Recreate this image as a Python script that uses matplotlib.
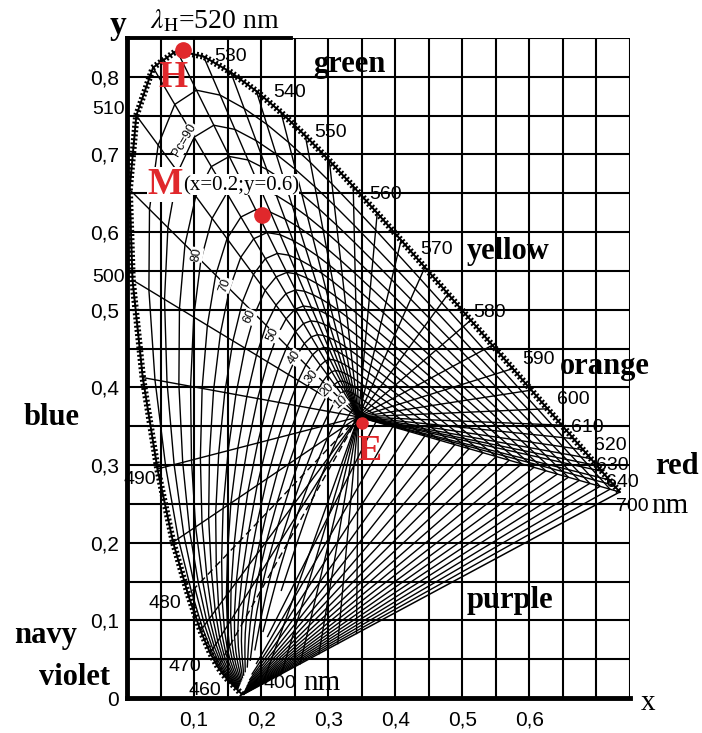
import numpy as np
import matplotlib
import matplotlib.pyplot as plt
import matplotlib.patheffects as pe

matplotlib.use('Agg')

# spectral locus CIE 1931: wavelength, x, y
wl = [380, 385, 390, 395, 400, 405, 410, 415, 420, 425, 430, 435, 440, 445, 450,
      455, 460, 465, 470, 475, 480, 485, 490, 495, 500, 505, 510, 515, 520, 525,
      530, 535, 540, 545, 550, 555, 560, 565, 570, 575, 580, 585, 590, 595, 600,
      605, 610, 615, 620, 625, 630, 635, 640, 645, 650, 660, 680, 700]
cie_x = [0.1741, 0.1740, 0.1738, 0.1736, 0.1733, 0.1730, 0.1726, 0.1721, 0.1714, 0.1703,
         0.1689, 0.1669, 0.1644, 0.1611, 0.1566, 0.1510, 0.1440, 0.1355, 0.1241, 0.1096,
         0.0913, 0.0687, 0.0454, 0.0235, 0.0082, 0.0039, 0.0139, 0.0389, 0.0743, 0.1142,
         0.1547, 0.1929, 0.2296, 0.2658, 0.3016, 0.3373, 0.3731, 0.4087, 0.4441, 0.4788,
         0.5125, 0.5448, 0.5752, 0.6029, 0.6270, 0.6482, 0.6658, 0.6801, 0.6915, 0.7006,
         0.7079, 0.7140, 0.7190, 0.7230, 0.7260, 0.7300, 0.7334, 0.7347]
cie_y = [0.0050, 0.0050, 0.0049, 0.0049, 0.0048, 0.0048, 0.0048, 0.0048, 0.0051, 0.0058,
         0.0069, 0.0086, 0.0109, 0.0138, 0.0177, 0.0227, 0.0297, 0.0399, 0.0578, 0.0868,
         0.1327, 0.2007, 0.2950, 0.4127, 0.5384, 0.6548, 0.7502, 0.8120, 0.8338, 0.8262,
         0.8059, 0.7816, 0.7543, 0.7243, 0.6923, 0.6589, 0.6245, 0.5896, 0.5547, 0.5202,
         0.4866, 0.4544, 0.4242, 0.3965, 0.3725, 0.3514, 0.3340, 0.3197, 0.3083, 0.2993,
         0.2920, 0.2859, 0.2809, 0.2770, 0.2740, 0.2700, 0.2666, 0.2653]

# точка схождения линий и отмеченные точки
center = (0.345, 0.362)
point_E = (0.350, 0.354)
point_H = (0.0835, 0.835)
point_M = (0.201, 0.622)

# линии доминирующей длины волны
line_wl = [470, 475, 485, 490, 495, 500, 505, 510, 515, 520, 525, 530, 535, 540, 545,
           550, 555, 560, 565, 570, 575, 580, 585, 590, 595, 600, 605, 610, 615, 620,
           625, 630, 640, 650, 700]
dashed_wl = [465, 480]
# положение на линии пурпурных цветов (0 - 380 нм, 1 - 700 нм)
purple_t = [0.05, 0.1, 0.15, 0.2, 0.25, 0.3]
purple_grid = [1.0, 0.9, 0.8, 0.7, 0.6, 0.5, 0.4, 0.3, 0.2, 0.1, 0.05, 0.0]
# колориметрическая чистота, %
purity_levels = [5, 10, 15, 20, 25, 30, 35, 40, 45, 50, 55, 60, 65, 70, 75, 80, 85, 90, 95]

wl_labels = [(530, 0.154, 0.826), (540, 0.243, 0.780), (550, 0.303, 0.728),
             (560, 0.385, 0.648), (570, 0.462, 0.577), (580, 0.541, 0.496),
             (590, 0.613, 0.436), (600, 0.665, 0.384), (610, 0.686, 0.348),
             (620, 0.720, 0.325), (630, 0.723, 0.300), (640, 0.738, 0.277),
             (700, 0.753, 0.247), (510, -0.028, 0.758), (500, -0.028, 0.541),
             (490, 0.019, 0.281), (480, 0.057, 0.122), (470, 0.086, 0.040),
             (460, 0.116, 0.010), (400, 0.228, 0.019)]
pc_labels = [('Pc=90', 0.086, 0.719, 60), ('80', 0.104, 0.571, 80), ('70', 0.146, 0.532, 70),
             ('60', 0.183, 0.491, 65), ('50', 0.218, 0.468, 65), ('40', 0.250, 0.439, 55),
             ('30', 0.276, 0.414, 50), ('20', 0.298, 0.397, 45), ('10', 0.318, 0.381, 40)]
color_names = [('green', 0.332, 0.816), ('yellow', 0.568, 0.575), ('orange', 0.713, 0.427),
               ('red', 0.82, 0.298), ('blue', -0.112, 0.361), ('purple', 0.571, 0.126),
               ('navy', -0.122, 0.081), ('violet', -0.078, 0.026)]

RED = '#e0282c'
SERIF = ['Liberation Serif', 'DejaVu Serif']
NARROW = ['Liberation Sans Narrow', 'Liberation Sans', 'DejaVu Sans']


def locus_point(w):
    i = wl.index(w)
    return np.array([cie_x[i], cie_y[i]])


def purple_point(t):
    return (1 - t) * locus_point(380) + t * locus_point(700)


# точка заданной колориметрической чистоты на линии от center к p
def purity_point(p, pc):
    c = np.array(center)
    yp = p[1]
    k = pc * c[1] / (yp - pc * (yp - c[1]))
    return c + k * (p - c)


fig = plt.figure(figsize=(7.02, 7.33), dpi=100)
ax = fig.add_axes([127 / 702, 35 / 733, 503 / 702, 660 / 733])
ax.set_xlim(0, 0.75)
ax.set_ylim(0, 0.85)

# сетка
ax.set_xticks([0.1, 0.2, 0.3, 0.4, 0.5, 0.6])
ax.set_xticklabels(['0,1', '0,2', '0,3', '0,4', '0,5', '0,6'])
ax.set_xticks(np.arange(0, 0.76, 0.05), minor=True)
ax.set_yticks([0, 0.1, 0.2, 0.3, 0.4, 0.5, 0.6, 0.7, 0.8])
ax.set_yticklabels(['0', '0,1', '0,2', '0,3', '0,4', '0,5', '0,6', '0,7', '0,8'])
ax.set_yticks(np.arange(0, 0.86, 0.05), minor=True)
ax.grid(True, which='both', color='black', lw=1.5, zorder=0)
ax.tick_params(which='both', length=0)
ax.tick_params(axis='x', pad=9)
ax.tick_params(axis='y', pad=6)
for lab in ax.get_xticklabels() + ax.get_yticklabels():
    lab.set_family(NARROW)
    lab.set_fontsize(15)
ax.set_axisbelow(True)
for s in ['top', 'right']:
    ax.spines[s].set_visible(False)
for s in ['left', 'bottom']:
    ax.spines[s].set_linewidth(3.5)
ax.plot([0, 0.245], [0.85, 0.85], color='black', lw=2.8, clip_on=False, zorder=4)

# линии доминирующей длины волны
for w in line_wl:
    p = locus_point(w)
    ax.plot([center[0], p[0]], [center[1], p[1]], color='black', lw=1.0, zorder=2)
for w in dashed_wl:
    p = locus_point(w)
    ax.plot([center[0], p[0]], [center[1], p[1]], color='black', lw=1.0, ls=(0, (5, 3)), zorder=2)
for t in purple_t:
    p = purple_point(t)
    ax.plot([center[0], p[0]], [center[1], p[1]], color='black', lw=1.0, zorder=2)

# линии равной чистоты
contour_wl = [w for w in wl if w >= 440]
for pc in purity_levels:
    pts = [purity_point(locus_point(w), pc / 100) for w in contour_wl]
    pts += [purity_point(purple_point(t), pc / 100) for t in purple_grid]
    pts = np.array(pts)
    ax.plot(pts[:, 0], pts[:, 1], color='black', lw=1.0, zorder=2)

# спектральный локус с делениями
ticks = [pe.Stroke(), pe.TickedStroke(spacing=3, angle=90, length=0.55),
         pe.TickedStroke(spacing=3, angle=-90, length=0.55)]
ax.plot(cie_x, cie_y, color='black', lw=1.4, zorder=3, path_effects=ticks)
p0, p1 = locus_point(380), locus_point(700)
ax.plot([p0[0], p1[0]], [p0[1], p1[1]], color='black', lw=1.1, zorder=3)

# подписи
for w, x, y in wl_labels:
    ax.text(x, y, str(w), family=NARROW, fontsize=14, ha='center', va='center', zorder=5)
for s, x, y, r in pc_labels:
    ax.text(x, y, s, family=NARROW, fontsize=9, rotation=r, ha='center', va='center', zorder=5,
            bbox=dict(facecolor='white', edgecolor='none', pad=0.3))
for s, x, y in color_names:
    ax.text(x, y, s, family=SERIF, fontsize=22, weight='bold', ha='center', va='center', zorder=5)

ax.text(0.291, 0.019, 'nm', family=SERIF, fontsize=21, ha='center', va='center', zorder=5)
ax.text(0.81, 0.247, 'nm', family=SERIF, fontsize=21, ha='center', va='center', zorder=5)
ax.text(-0.013, 0.866, 'y', family=SERIF, fontsize=24, weight='bold', ha='center', va='center')
ax.text(0.777, -0.006, 'x', family=SERIF, fontsize=21, ha='center', va='center')
ax.text(0.034, 0.872, r'$\lambda_{\rm H}$=520 nm', family=SERIF, fontsize=20, ha='left', va='center',
        math_fontfamily='stix')

# отмеченные точки
ax.plot(*point_H, 'o', color=RED, ms=11, zorder=6)
ax.plot(*point_M, 'o', color=RED, ms=11, zorder=6)
ax.plot(*point_E, 'o', color=RED, ms=8, zorder=6)
ax.text(0.069, 0.799, 'H', family=SERIF, fontsize=27, weight='bold', color=RED,
        ha='center', va='center', zorder=6)
ax.text(0.057, 0.661, 'M', family=SERIF, fontsize=27, weight='bold', color=RED, ha='center',
        va='center', zorder=6, bbox=dict(facecolor='white', edgecolor='none', pad=0))
ax.text(0.083, 0.661, '(x=0.2;y=0.6)', family=SERIF, fontsize=15, ha='left', va='center',
        zorder=6, bbox=dict(facecolor='white', edgecolor='none', pad=0.5))
ax.text(0.362, 0.318, 'E', family=SERIF, fontsize=26, weight='bold', color=RED,
        ha='center', va='center', zorder=6)

plt.savefig('out.png', dpi=100, facecolor='white')
